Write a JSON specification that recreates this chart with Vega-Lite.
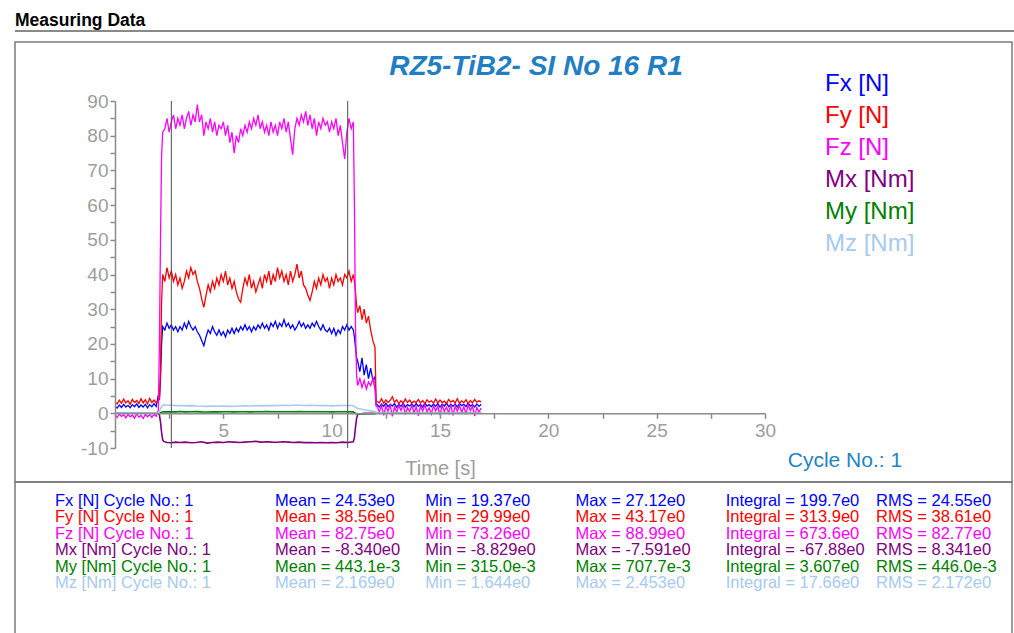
{
"$schema": "https://vega.github.io/schema/vega-lite/v6.json",
"width": 650,
"height": 347,
"autosize": {"type": "none"},
"padding": {"left": 115, "top": 101, "right": 249, "bottom": 185},
"background": "#ffffff",
"config": {"view": {"stroke": null}, "font": "Liberation Sans", "text": {"font": "Liberation Sans"}, "axis": {"labelOverlap": false}},
"datasets": {
"forces": [
{"t":0.0,"Fx":2.0,"Fy":3.3,"Fz":-0.5},{"t":0.1,"Fx":1.5,"Fy":2.7,"Fz":-1.2},{"t":0.2,"Fx":2.4,"Fy":3.8,"Fz":-0.2},{"t":0.3,"Fx":1.7,"Fy":2.9,"Fz":-0.9},{"t":0.4,"Fx":2.6,"Fy":4.1,"Fz":-0.4},{"t":0.5,"Fx":1.8,"Fy":3.0,"Fz":-1.3},{"t":0.6,"Fx":2.3,"Fy":3.6,"Fz":-0.3},{"t":0.7,"Fx":1.6,"Fy":2.6,"Fz":-1.0},{"t":0.8,"Fx":2.5,"Fy":4.0,"Fz":-0.5},{"t":0.9,"Fx":1.9,"Fy":3.1,"Fz":-1.4},
{"t":1.0,"Fx":2.7,"Fy":3.7,"Fz":-0.2},{"t":1.1,"Fx":1.7,"Fy":2.8,"Fz":-1.1},{"t":1.2,"Fx":2.4,"Fy":4.2,"Fz":-0.6},{"t":1.3,"Fx":1.8,"Fy":3.0,"Fz":-1.5},{"t":1.4,"Fx":2.6,"Fy":3.9,"Fz":-0.3},{"t":1.5,"Fx":1.6,"Fy":2.7,"Fz":-1.0},{"t":1.6,"Fx":2.5,"Fy":4.3,"Fz":-0.4},{"t":1.7,"Fx":1.9,"Fy":3.1,"Fz":-1.2},{"t":1.8,"Fx":2.8,"Fy":3.8,"Fz":-0.3},{"t":1.9,"Fx":2.0,"Fy":3.0,"Fz":-0.9},
{"t":2.0,"Fx":5.3,"Fy":3.6,"Fz":1.0},{"t":2.05,"Fx":4.0,"Fy":4.0,"Fz":20},{"t":2.1,"Fx":10,"Fy":12,"Fz":50},{"t":2.15,"Fx":20,"Fy":32,"Fz":74},{"t":2.2,"Fx":25,"Fy":40,"Fz":81},
{"t":2.3,"Fx":24,"Fy":38,"Fz":82},{"t":2.4,"Fx":26,"Fy":42,"Fz":85},{"t":2.5,"Fx":24.5,"Fy":39,"Fz":81},{"t":2.6,"Fx":25.5,"Fy":41,"Fz":84},{"t":2.7,"Fx":24,"Fy":38,"Fz":86},{"t":2.8,"Fx":25,"Fy":40,"Fz":82},{"t":2.9,"Fx":23.5,"Fy":37,"Fz":85},
{"t":3.0,"Fx":25,"Fy":39,"Fz":83},{"t":3.1,"Fx":24,"Fy":36,"Fz":86},{"t":3.2,"Fx":26,"Fy":38,"Fz":82},{"t":3.3,"Fx":24.5,"Fy":41,"Fz":85},{"t":3.4,"Fx":26.5,"Fy":39,"Fz":87},{"t":3.5,"Fx":25,"Fy":42,"Fz":83},{"t":3.6,"Fx":24,"Fy":40,"Fz":86},{"t":3.7,"Fx":25,"Fy":41,"Fz":84},{"t":3.8,"Fx":23.5,"Fy":38,"Fz":89},{"t":3.9,"Fx":22.5,"Fy":36,"Fz":84},
{"t":4.0,"Fx":21,"Fy":33,"Fz":86},{"t":4.1,"Fx":19.5,"Fy":30.5,"Fz":80},{"t":4.2,"Fx":22,"Fy":34,"Fz":84},{"t":4.3,"Fx":24,"Fy":37,"Fz":82},{"t":4.4,"Fx":23,"Fy":35,"Fz":85},{"t":4.5,"Fx":25,"Fy":38,"Fz":81},{"t":4.6,"Fx":23.5,"Fy":36,"Fz":84},{"t":4.7,"Fx":22.5,"Fy":39,"Fz":80},{"t":4.8,"Fx":24,"Fy":37,"Fz":83},{"t":4.9,"Fx":22.5,"Fy":40,"Fz":82},
{"t":5.0,"Fx":23.5,"Fy":38,"Fz":84},{"t":5.1,"Fx":22,"Fy":41,"Fz":80},{"t":5.2,"Fx":24,"Fy":37,"Fz":83},{"t":5.3,"Fx":23,"Fy":39,"Fz":78},{"t":5.4,"Fx":24.5,"Fy":36,"Fz":81},{"t":5.5,"Fx":23,"Fy":38,"Fz":75},{"t":5.6,"Fx":24.5,"Fy":35,"Fz":80},{"t":5.7,"Fx":23.5,"Fy":33,"Fz":78},{"t":5.8,"Fx":25,"Fy":32,"Fz":82},{"t":5.9,"Fx":24,"Fy":36,"Fz":80},
{"t":6.0,"Fx":25.5,"Fy":39,"Fz":83},{"t":6.1,"Fx":24,"Fy":37,"Fz":81},{"t":6.2,"Fx":25,"Fy":40,"Fz":84},{"t":6.3,"Fx":23.5,"Fy":36,"Fz":82},{"t":6.4,"Fx":25,"Fy":38,"Fz":85},{"t":6.5,"Fx":24,"Fy":35,"Fz":83},{"t":6.6,"Fx":25.5,"Fy":37,"Fz":86},{"t":6.7,"Fx":24.5,"Fy":39,"Fz":82},{"t":6.8,"Fx":26,"Fy":36,"Fz":84},{"t":6.9,"Fx":24.5,"Fy":40,"Fz":81},
{"t":7.0,"Fx":25.5,"Fy":38,"Fz":83},{"t":7.1,"Fx":24,"Fy":41,"Fz":80},{"t":7.2,"Fx":26,"Fy":37,"Fz":84},{"t":7.3,"Fx":25,"Fy":40,"Fz":81},{"t":7.4,"Fx":26.5,"Fy":38,"Fz":83},{"t":7.5,"Fx":24.5,"Fy":42,"Fz":80},{"t":7.6,"Fx":26,"Fy":39,"Fz":84},{"t":7.7,"Fx":25,"Fy":41,"Fz":82},{"t":7.8,"Fx":27,"Fy":38,"Fz":85},{"t":7.9,"Fx":25,"Fy":40,"Fz":81},
{"t":8.0,"Fx":26,"Fy":37,"Fz":84},{"t":8.1,"Fx":24.5,"Fy":41,"Fz":79},{"t":8.2,"Fx":25.5,"Fy":38,"Fz":74.5},{"t":8.3,"Fx":24,"Fy":40,"Fz":82},{"t":8.4,"Fx":25,"Fy":43,"Fz":85},{"t":8.5,"Fx":26.5,"Fy":39,"Fz":83},{"t":8.6,"Fx":25,"Fy":41,"Fz":86},{"t":8.7,"Fx":26,"Fy":37,"Fz":84},{"t":8.8,"Fx":24.5,"Fy":36,"Fz":87},{"t":8.9,"Fx":25.5,"Fy":34,"Fz":83},
{"t":9.0,"Fx":24.5,"Fy":32.5,"Fz":86},{"t":9.1,"Fx":26,"Fy":35,"Fz":82},{"t":9.2,"Fx":25,"Fy":38,"Fz":85},{"t":9.3,"Fx":26.5,"Fy":36,"Fz":80},{"t":9.4,"Fx":25,"Fy":39,"Fz":84},{"t":9.5,"Fx":24,"Fy":37,"Fz":82},{"t":9.6,"Fx":25.5,"Fy":40,"Fz":85},{"t":9.7,"Fx":24,"Fy":38,"Fz":83},{"t":9.8,"Fx":23.5,"Fy":39,"Fz":84},{"t":9.9,"Fx":24.5,"Fy":36,"Fz":81},
{"t":10.0,"Fx":23,"Fy":39,"Fz":84},{"t":10.1,"Fx":24.5,"Fy":37,"Fz":82},{"t":10.2,"Fx":22.5,"Fy":40,"Fz":85},{"t":10.3,"Fx":24,"Fy":38,"Fz":80},{"t":10.4,"Fx":23,"Fy":39,"Fz":83},{"t":10.5,"Fx":25,"Fy":37,"Fz":78},{"t":10.6,"Fx":24,"Fy":40,"Fz":73.3},{"t":10.7,"Fx":25.5,"Fy":39,"Fz":81},{"t":10.8,"Fx":24,"Fy":41,"Fz":85},{"t":10.9,"Fx":25,"Fy":38,"Fz":82},
{"t":11.0,"Fx":24,"Fy":40,"Fz":84},{"t":11.05,"Fx":22,"Fy":38,"Fz":60},{"t":11.1,"Fx":19,"Fy":35,"Fz":25},{"t":11.15,"Fx":16,"Fy":31,"Fz":11},{"t":11.2,"Fx":15,"Fy":29,"Fz":8},{"t":11.3,"Fx":12,"Fy":31,"Fz":10},{"t":11.4,"Fx":16,"Fy":27,"Fz":7.5},{"t":11.5,"Fx":11,"Fy":30,"Fz":9.5},{"t":11.6,"Fx":14,"Fy":26,"Fz":7},{"t":11.7,"Fx":10,"Fy":28,"Fz":9},{"t":11.8,"Fx":13,"Fy":24,"Fz":8},{"t":11.9,"Fx":9.5,"Fy":21,"Fz":10},{"t":12.0,"Fx":10.5,"Fy":19,"Fz":7},{"t":12.05,"Fx":2.5,"Fy":3.5,"Fz":2},
{"t":12.1,"Fx":2.5,"Fy":3.4,"Fz":1.9},{"t":12.2,"Fx":1.8,"Fy":3.0,"Fz":0.4},{"t":12.3,"Fx":2.7,"Fy":4.2,"Fz":2.3},{"t":12.4,"Fx":2.0,"Fy":2.9,"Fz":-0.6},{"t":12.5,"Fx":2.9,"Fy":3.9,"Fz":2.0},{"t":12.6,"Fx":1.9,"Fy":3.1,"Fz":0.6},{"t":12.7,"Fx":2.6,"Fy":3.7,"Fz":2.4},{"t":12.8,"Fx":2.1,"Fy":4.8,"Fz":-0.9},{"t":12.9,"Fx":2.8,"Fy":3.2,"Fz":1.8},
{"t":13.0,"Fx":1.7,"Fy":3.9,"Fz":0.3},{"t":13.1,"Fx":2.6,"Fy":2.8,"Fz":2.2},{"t":13.2,"Fx":2.0,"Fy":3.6,"Fz":0.8},{"t":13.3,"Fx":2.9,"Fy":3.0,"Fz":2.5},{"t":13.4,"Fx":1.8,"Fy":4.1,"Fz":-0.4},{"t":13.5,"Fx":2.5,"Fy":3.1,"Fz":1.7},{"t":13.6,"Fx":2.1,"Fy":3.8,"Fz":0.5},{"t":13.7,"Fx":2.7,"Fy":2.9,"Fz":2.3},{"t":13.8,"Fx":1.9,"Fy":3.5,"Fz":0.2},{"t":13.9,"Fx":2.8,"Fy":3.1,"Fz":1.9},
{"t":14.0,"Fx":2.0,"Fy":4.0,"Fz":-0.7},{"t":14.1,"Fx":2.6,"Fy":3.0,"Fz":2.1},{"t":14.2,"Fx":1.8,"Fy":3.7,"Fz":0.6},{"t":14.3,"Fx":2.9,"Fy":2.8,"Fz":2.4},{"t":14.4,"Fx":2.1,"Fy":3.9,"Fz":0.4},{"t":14.5,"Fx":2.5,"Fy":3.2,"Fz":1.6},{"t":14.6,"Fx":1.9,"Fy":3.6,"Fz":-0.2},{"t":14.7,"Fx":2.7,"Fy":2.9,"Fz":2.2},{"t":14.8,"Fx":2.0,"Fy":4.1,"Fz":0.7},{"t":14.9,"Fx":2.8,"Fy":3.0,"Fz":2.0},
{"t":15.0,"Fx":1.8,"Fy":3.8,"Fz":-0.5},{"t":15.1,"Fx":2.6,"Fy":3.1,"Fz":2.3},{"t":15.2,"Fx":2.1,"Fy":3.5,"Fz":0.5},{"t":15.3,"Fx":2.9,"Fy":2.8,"Fz":1.8},{"t":15.4,"Fx":1.9,"Fy":4.0,"Fz":0.1},{"t":15.5,"Fx":2.6,"Fy":3.2,"Fz":2.5},{"t":15.6,"Fx":2.0,"Fy":3.7,"Fz":-0.6},{"t":15.7,"Fx":2.7,"Fy":3.0,"Fz":2.0},{"t":15.8,"Fx":1.8,"Fy":4.2,"Fz":0.6},{"t":15.9,"Fx":2.8,"Fy":2.9,"Fz":2.2},
{"t":16.0,"Fx":2.2,"Fy":3.6,"Fz":0.3},{"t":16.1,"Fx":2.6,"Fy":3.1,"Fz":1.9},{"t":16.2,"Fx":1.9,"Fy":3.9,"Fz":-0.3},{"t":16.3,"Fx":2.9,"Fy":2.8,"Fz":2.4},{"t":16.4,"Fx":2.1,"Fy":3.7,"Fz":0.8},{"t":16.5,"Fx":2.5,"Fy":3.0,"Fz":2.1},{"t":16.6,"Fx":1.8,"Fy":4.0,"Fz":-0.8},{"t":16.7,"Fx":2.7,"Fy":3.2,"Fz":1.7},{"t":16.8,"Fx":2.0,"Fy":3.6,"Fz":0.4},{"t":16.9,"Fx":2.6,"Fy":3.3,"Fz":1.5}
],
"moments": [
{"t":0,"Mx":0.05,"My":0,"Mz":0.1},{"t":0.5,"Mx":0.02,"My":0,"Mz":0.1},{"t":1.0,"Mx":0.05,"My":0,"Mz":0.1},{"t":1.5,"Mx":0.03,"My":0,"Mz":0.1},{"t":2.0,"Mx":0,"My":0,"Mz":0.1},
{"t":2.05,"Mx":-0.5,"My":0.05,"Mz":0.5},{"t":2.1,"Mx":-2.5,"My":0.15,"Mz":1.3},{"t":2.15,"Mx":-5.5,"My":0.3,"Mz":2.0},{"t":2.2,"Mx":-7.6,"My":0.35,"Mz":2.3},{"t":2.25,"Mx":-8.1,"My":0.4,"Mz":2.45},
{"t":2.4,"Mx":-8.4,"My":0.42,"Mz":2.4},{"t":2.6,"Mx":-8.5,"My":0.45,"Mz":2.3},{"t":2.8,"Mx":-8.3,"My":0.4,"Mz":2.2},{"t":3.0,"Mx":-8.4,"My":0.5,"Mz":2.25},{"t":3.25,"Mx":-8.3,"My":0.42,"Mz":2.15},{"t":3.5,"Mx":-8.5,"My":0.45,"Mz":2.2},{"t":3.75,"Mx":-8.4,"My":0.48,"Mz":2.1},
{"t":4.0,"Mx":-8.2,"My":0.4,"Mz":2.05},{"t":4.25,"Mx":-8.6,"My":0.38,"Mz":2.0},{"t":4.5,"Mx":-8.4,"My":0.44,"Mz":2.1},{"t":4.75,"Mx":-8.3,"My":0.42,"Mz":2.05},{"t":5.0,"Mx":-8.4,"My":0.45,"Mz":2.1},{"t":5.25,"Mx":-8.2,"My":0.43,"Mz":2.0},{"t":5.5,"Mx":-8.3,"My":0.4,"Mz":2.05},{"t":5.75,"Mx":-8.4,"My":0.44,"Mz":2.1},
{"t":6.0,"Mx":-8.3,"My":0.46,"Mz":2.15},{"t":6.25,"Mx":-8.2,"My":0.42,"Mz":2.1},{"t":6.5,"Mx":-8.1,"My":0.45,"Mz":2.2},{"t":6.75,"Mx":-8.3,"My":0.44,"Mz":2.15},{"t":7.0,"Mx":-8.2,"My":0.47,"Mz":2.2},{"t":7.25,"Mx":-8.3,"My":0.45,"Mz":2.2},{"t":7.5,"Mx":-8.35,"My":0.43,"Mz":2.25},{"t":7.75,"Mx":-8.2,"My":0.46,"Mz":2.3},
{"t":8.0,"Mx":-8.3,"My":0.44,"Mz":2.25},{"t":8.25,"Mx":-8.4,"My":0.45,"Mz":2.3},{"t":8.5,"Mx":-8.3,"My":0.47,"Mz":2.3},{"t":8.75,"Mx":-8.45,"My":0.44,"Mz":2.25},{"t":9.0,"Mx":-8.4,"My":0.46,"Mz":2.3},{"t":9.25,"Mx":-8.5,"My":0.45,"Mz":2.25},{"t":9.5,"Mx":-8.4,"My":0.43,"Mz":2.2},{"t":9.75,"Mx":-8.5,"My":0.45,"Mz":2.2},
{"t":10.0,"Mx":-8.4,"My":0.42,"Mz":2.15},{"t":10.25,"Mx":-8.5,"My":0.44,"Mz":2.2},{"t":10.5,"Mx":-8.3,"My":0.46,"Mz":2.25},{"t":10.75,"Mx":-8.4,"My":0.45,"Mz":2.3},{"t":11.0,"Mx":-8.2,"My":0.4,"Mz":2.2},
{"t":11.05,"Mx":-7.0,"My":0.2,"Mz":2.0},{"t":11.1,"Mx":-4.0,"My":0.0,"Mz":1.8},{"t":11.15,"Mx":-1.5,"My":-0.15,"Mz":1.6},{"t":11.2,"Mx":-0.3,"My":-0.2,"Mz":1.4},{"t":11.5,"Mx":0,"My":-0.2,"Mz":1.0},{"t":11.8,"Mx":0,"My":-0.2,"Mz":0.7},{"t":12.0,"Mx":0,"My":-0.15,"Mz":0.5},
{"t":12.1,"Mx":0.02,"My":0,"Mz":0.1},{"t":13,"Mx":0.03,"My":0,"Mz":0.1},{"t":14,"Mx":0.02,"My":0,"Mz":0.1},{"t":15,"Mx":0.03,"My":0,"Mz":0.1},{"t":16,"Mx":0.02,"My":0,"Mz":0.1},{"t":16.9,"Mx":0.03,"My":0,"Mz":0.1}
],
"cursors": [{"t": 2.6}, {"t": 10.74}],
"stats": [
{"series":"Fx","label":"Fx [N] Cycle No.: 1","Mean":"Mean = 24.53e0","Min":"Min = 19.37e0","Max":"Max = 27.12e0","Integral":"Integral = 199.7e0","RMS":"RMS = 24.55e0"},
{"series":"Fy","label":"Fy [N] Cycle No.: 1","Mean":"Mean = 38.56e0","Min":"Min = 29.99e0","Max":"Max = 43.17e0","Integral":"Integral = 313.9e0","RMS":"RMS = 38.61e0"},
{"series":"Fz","label":"Fz [N] Cycle No.: 1","Mean":"Mean = 82.75e0","Min":"Min = 73.26e0","Max":"Max = 88.99e0","Integral":"Integral = 673.6e0","RMS":"RMS = 82.77e0"},
{"series":"Mx","label":"Mx [Nm] Cycle No.: 1","Mean":"Mean = -8.340e0","Min":"Min = -8.829e0","Max":"Max = -7.591e0","Integral":"Integral = -67.88e0","RMS":"RMS = 8.341e0"},
{"series":"My","label":"My [Nm] Cycle No.: 1","Mean":"Mean = 443.1e-3","Min":"Min = 315.0e-3","Max":"Max = 707.7e-3","Integral":"Integral = 3.607e0","RMS":"RMS = 446.0e-3"},
{"series":"Mz","label":"Mz [Nm] Cycle No.: 1","Mean":"Mean = 2.169e0","Min":"Min = 1.644e0","Max":"Max = 2.453e0","Integral":"Integral = 17.66e0","RMS":"RMS = 2.172e0"}
]
},
"layer": [
{
"layer": [
{
"data": {"name": "forces"},
"transform": [{"fold": ["Fx", "Fy", "Fz"], "as": ["series", "v"]}],
"mark": {"type": "line", "strokeWidth": 1.3},
"encoding": {
"x": {"field": "t", "type": "quantitative", "scale": {"domain": [0, 30], "nice": false, "zero": false},
"axis": {"values": [2.5, 5, 7.5, 10, 12.5, 15, 17.5, 20, 22.5, 25, 27.5, 30], "tickCount": 100, "labelExpr": "datum.value % 5 === 0 ? toString(datum.value) : ''", "offset": -34.7, "domainColor": "#8c8c8c", "domainWidth": 1.5, "tickColor": "#8c8c8c", "tickWidth": 1.5, "tickSize": 5, "labelFontSize": 19, "labelColor": "#9d9d9d", "labelPadding": 3, "labelFont": "Liberation Sans", "labelFlush": false, "labelOverlap": false, "title": "Time [s]", "titleFont": "Liberation Sans", "titleFontSize": 20, "titleFontWeight": "normal", "titleColor": "#9d9d9d", "titlePadding": 18, "grid": false, "zindex": 1,
"encode": {"ticks": {"update": {"y2": {"signal": "datum.value % 5 === 0 ? 5 : 3"}}}}}},
"y": {"field": "v", "type": "quantitative", "scale": {"domain": [-10, 90], "nice": false, "zero": false},
"axis": {"values": [-10, -5, 0, 5, 10, 15, 20, 25, 30, 35, 40, 45, 50, 55, 60, 65, 70, 75, 80, 85, 90], "tickCount": 100, "labelExpr": "datum.value % 10 === 0 ? toString(datum.value) : ''", "domainColor": "#8c8c8c", "domainWidth": 1.5, "tickColor": "#8c8c8c", "tickWidth": 1.5, "tickSize": 5, "labelFontSize": 19, "labelColor": "#9d9d9d", "labelPadding": 2, "labelFont": "Liberation Sans", "labelFlush": false, "labelOverlap": false, "labelBound": false, "title": null, "grid": false, "zindex": 1,
"encode": {"ticks": {"update": {"x2": {"signal": "datum.value % 10 === 0 ? -5 : -3"}}}}}},
"color": {"field": "series", "type": "nominal",
"scale": {"domain": ["Fx", "Fy", "Fz", "Mx", "My", "Mz"], "range": ["#0000ff", "#ff0000", "#ff00ff", "#800080", "#008000", "#a6caf0"]},
"legend": {"orient": "none", "legendX": 680, "legendY": -29, "title": null, "labelFontSize": 24, "labelFont": "Liberation Sans", "symbolSize": 0, "symbolOpacity": 0, "symbolStrokeWidth": 0, "labelOffset": 6, "rowPadding": 8, "padding": 0,
"labelExpr": "substring(datum.label, 0, 1) === 'F' ? datum.label + ' [N]' : datum.label + ' [Nm]'",
"encode": {"labels": {"update": {"fill": {"scale": "color", "field": "value"}}}}}}
}
},
{
"data": {"values": [{}]},
"mark": {"type": "rect", "filled": false, "stroke": "#7a7a7a", "strokeWidth": 1.5},
"encoding": {"x": {"datum": -4.615}, "x2": {"datum": 41.4}, "y": {"datum": 107.0}, "y2": {"datum": -19.8}}
},
{
"data": {"values": [{}]},
"mark": {"type": "rect", "filled": false, "stroke": "#7a7a7a", "strokeWidth": 1.5},
"encoding": {"x": {"datum": -4.615}, "x2": {"datum": 41.4}, "y": {"datum": -19.8}, "y2": {"datum": -66}}
},
{
"data": {"values": [{}]},
"mark": {"type": "rule", "stroke": "#8a8a8a", "strokeWidth": 2},
"encoding": {"x": {"datum": -4.615}, "x2": {"datum": 41.8}, "y": {"datum": 110.2}}
},
{
"data": {"name": "moments"},
"transform": [{"fold": ["Mx", "My", "Mz"], "as": ["series", "v"]}],
"mark": {"type": "line", "strokeWidth": 1.6},
"encoding": {
"x": {"field": "t", "type": "quantitative"},
"y": {"field": "v", "type": "quantitative"},
"color": {"field": "series", "type": "nominal", "scale": {"domain": ["Fx", "Fy", "Fz", "Mx", "My", "Mz"], "range": ["#0000ff", "#ff0000", "#ff00ff", "#800080", "#008000", "#a6caf0"]}, "legend": null}
}
},
{
"data": {"name": "cursors"},
"mark": {"type": "rule", "stroke": "#4d4d4d", "strokeWidth": 1},
"encoding": {"x": {"field": "t", "type": "quantitative"}, "y": {"datum": -10}, "y2": {"datum": 90}}
},
{
"data": {"values": [{}]},
"mark": {"type": "text", "text": "RZ5-TiB2- SI No 16 R1", "align": "center", "baseline": "alphabetic", "fontSize": 28, "fontWeight": "bold", "fontStyle": "italic", "font": "Liberation Sans", "fill": "#1f7ec4"},
"encoding": {"x": {"datum": 19.43}, "y": {"datum": 97.5}}
},
{
"data": {"values": [{}]},
"mark": {"type": "text", "text": "Measuring Data", "align": "left", "baseline": "alphabetic", "fontSize": 17.5, "fontWeight": "bold", "font": "Liberation Sans", "fill": "#000000"},
"encoding": {"x": {"datum": -4.615}, "y": {"datum": 111.6}}
},
{
"data": {"values": [{}]},
"mark": {"type": "text", "text": "Cycle No.: 1", "align": "center", "baseline": "alphabetic", "fontSize": 21, "font": "Liberation Sans", "fill": "#2284c6"},
"encoding": {"x": {"datum": 33.69}, "y": {"datum": -15.5}}
}
]
},
{
"data": {"name": "stats"},
"transform": [{"fold": ["label", "Mean", "Min", "Max", "Integral", "RMS"], "as": ["col", "txt"]}],
"encoding": {
"y": {"field": "series", "type": "nominal", "scale": {"domain": ["Fx", "Fy", "Fz", "Mx", "My", "Mz"], "range": [405, 487], "padding": 0}, "axis": null},
"color": {"field": "series", "type": "nominal", "scale": {"domain": ["Fx", "Fy", "Fz", "Mx", "My", "Mz"], "range": ["#0000ff", "#ff0000", "#ff00ff", "#800080", "#008000", "#a6caf0"]}, "legend": null},
"text": {"field": "txt", "type": "nominal"}
},
"layer": [
{
"transform": [{"filter": "datum.col === 'label'"}],
"mark": {"type": "text", "align": "left", "baseline": "alphabetic", "fontSize": 16.5, "font": "Liberation Sans"},
"encoding": {"x": {"field": "col", "type": "nominal", "scale": {"domain": ["label"], "range": [-60, -60], "padding": 0}, "axis": null}}
},
{
"transform": [{"filter": "datum.col !== 'label'"}],
"mark": {"type": "text", "align": "left", "baseline": "alphabetic", "fontSize": 16.5, "font": "Liberation Sans"},
"encoding": {"x": {"field": "col", "type": "nominal", "scale": {"domain": ["Mean", "Min", "Max", "Integral", "RMS"], "range": [160, 761], "padding": 0}, "axis": null}}
}
],
"resolve": {"scale": {"x": "independent"}}
}
],
"resolve": {"scale": {"x": "independent", "y": "independent"}}
}
